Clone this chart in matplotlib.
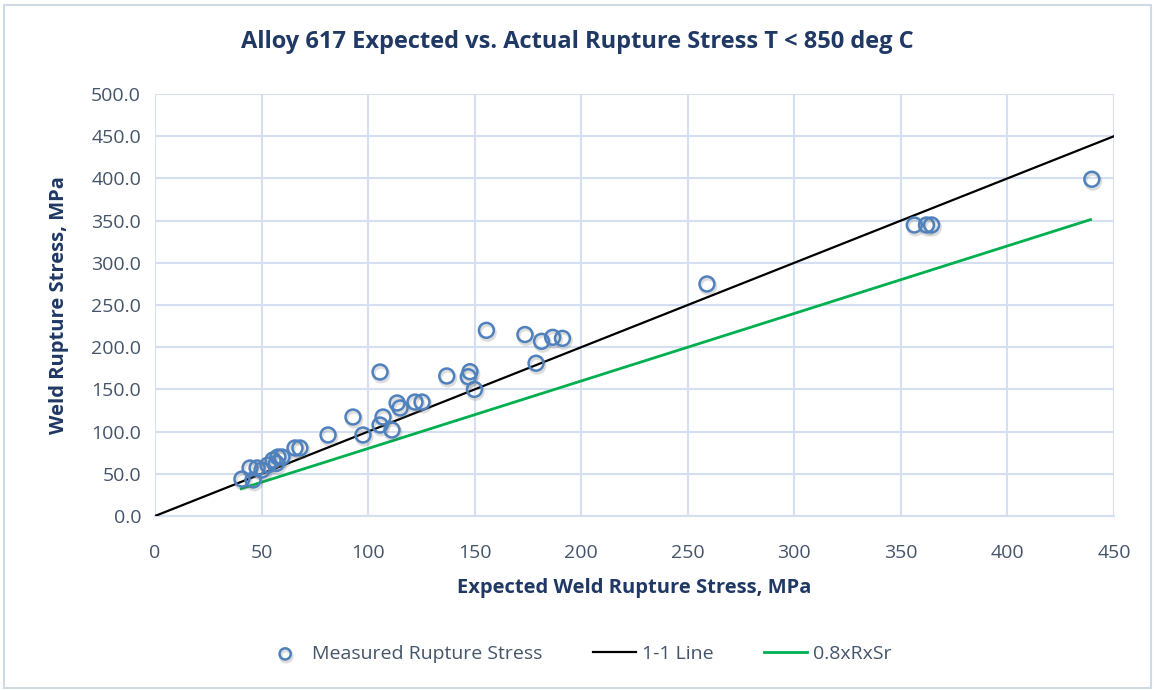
import matplotlib
matplotlib.use("Agg")
import matplotlib.pyplot as plt
import matplotlib.patheffects as pe
from matplotlib.patches import Rectangle

# Measured weld rupture stress vs. expected weld rupture stress (MPa)
expected = [40.8, 46.0, 44.6, 47.9, 50.2, 53.0, 55.4, 57.0, 57.7, 59.6,
            65.7, 68.0, 81.2, 92.9, 97.6, 105.6, 105.6, 107.0, 111.2, 113.6,
            115.0, 122.0, 125.3, 136.9, 147.0, 147.8, 149.9, 155.5, 173.6, 178.8,
            181.4, 186.6, 191.2, 259.0, 356.3, 362.0, 364.4, 439.6]
measured = [43.8, 42.7, 56.9, 56.9, 54.5, 60.4, 66.4, 62.4, 69.9, 69.9,
            80.6, 80.6, 96.0, 117.3, 96.0, 170.6, 107.8, 117.3, 101.9, 133.9,
            128.0, 135.0, 135.0, 165.9, 165.0, 171.0, 150.0, 220.0, 215.0, 181.0,
            207.0, 211.7, 210.5, 274.9, 344.8, 344.8, 344.8, 399.0]

# Reference lines
one_to_one_x = [0, 450]
one_to_one_y = [0, 450]
factored_x = [40.5, 439.0]
factored_y = [32.4, 351.2]

x_ticks = [0, 50, 100, 150, 200, 250, 300, 350, 400, 450]
y_ticks = [0, 50, 100, 150, 200, 250, 300, 350, 400, 450, 500]

title_color = "#1f3864"
tick_color = "#44546a"
grid_color = "#d4e0f2"
marker_color = "#4f81bd"

plt.rcParams["font.family"] = ["Open Sans", "DejaVu Sans"]

fig = plt.figure(figsize=(11.55, 6.9), dpi=100)
ax = fig.add_axes([155 / 1155, 1 - 516 / 690, (1114 - 155) / 1155, (516 - 94) / 690])

ax.plot(one_to_one_x, one_to_one_y, color="black", lw=1.6, label="1-1 Line", zorder=3)
ax.plot(factored_x, factored_y, color="#00b050", lw=2.0, label="0.8xRxSr", zorder=3)
ax.scatter(expected, measured, s=115, facecolors="none", edgecolors=marker_color,
           linewidths=1.8, zorder=4, label="Measured Rupture Stress",
           path_effects=[pe.SimpleLineShadow(offset=(0.8, -1.6), shadow_color="#666666",
                                             alpha=0.22, linewidth=2.6),
                         pe.Normal()])

ax.set_xlim(0, 450)
ax.set_ylim(0, 500)
ax.set_xticks(x_ticks)
ax.set_yticks(y_ticks)
ax.set_yticklabels([f"{v:.1f}" for v in y_ticks])
ax.grid(True, color=grid_color, lw=1.5, zorder=0)
ax.set_axisbelow(True)
for side in ["top", "right", "left"]:
    ax.spines[side].set_visible(False)
ax.spines["bottom"].set_color(grid_color)
ax.spines["bottom"].set_linewidth(1.5)
ax.tick_params(axis="both", length=0, colors=tick_color, labelsize=14)
ax.tick_params(axis="y", pad=10)
ax.tick_params(axis="x", pad=20)

ax.set_xlabel("Expected Weld Rupture Stress, MPa", fontsize=14.5, fontweight="bold",
              color=title_color, labelpad=12)
ax.set_ylabel("Weld Rupture Stress, MPa", fontsize=14.5, fontweight="bold",
              color=title_color, labelpad=16)
fig.text(0.5, 1 - 42 / 690, "Alloy 617 Expected vs. Actual Rupture Stress T < 850 deg C",
         ha="center", va="center", fontsize=17, fontweight="bold", color=title_color)

handles, labels = ax.get_legend_handles_labels()
order = [2, 0, 1]
leg = fig.legend([handles[i] for i in order], [labels[i] for i in order],
                 loc="center", bbox_to_anchor=(0.5, 1 - 654 / 690), ncol=3,
                 frameon=False, fontsize=14, handlelength=2.2, columnspacing=2.6,
                 handletextpad=0.3, markerscale=0.75)
for t in leg.get_texts():
    t.set_color(tick_color)

# chart frame
fig.patches.append(Rectangle((4 / 1155, 2 / 690), 1147 / 1155, 683 / 690,
                             transform=fig.transFigure, fill=False,
                             edgecolor="#d0d9e6", lw=1.5))

fig.savefig("out.png", dpi=100)
